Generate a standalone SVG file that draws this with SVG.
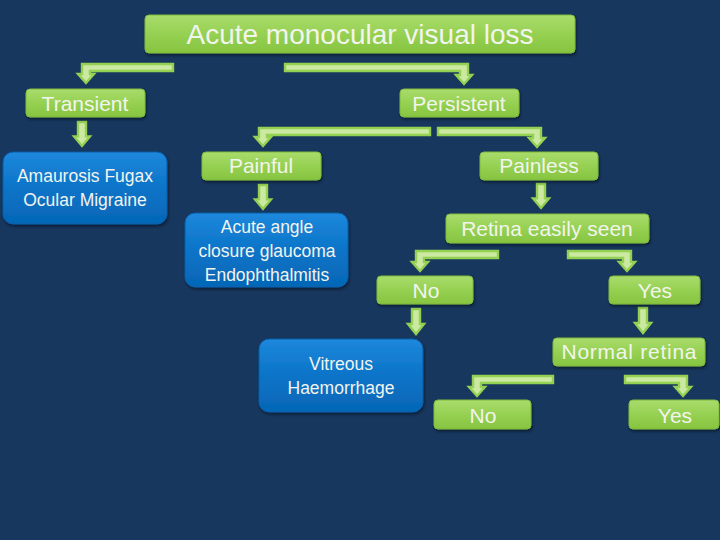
<svg xmlns="http://www.w3.org/2000/svg" width="720" height="540" viewBox="0 0 720 540">
<defs>
<linearGradient id="gg" x1="0" y1="0" x2="0" y2="1">
<stop offset="0" stop-color="#a9dc6c"/>
<stop offset="0.5" stop-color="#96d152"/>
<stop offset="1" stop-color="#86c440"/>
</linearGradient>
<linearGradient id="bg" x1="0" y1="0" x2="0" y2="1">
<stop offset="0" stop-color="#1d88dc"/>
<stop offset="0.5" stop-color="#0b74c8"/>
<stop offset="1" stop-color="#0566b6"/>
</linearGradient>
<filter id="sh" x="-10%" y="-20%" width="120%" height="150%">
<feDropShadow dx="1" dy="2" stdDeviation="1.5" flood-color="#000" flood-opacity="0.45"/>
</filter>
<path id="down" d="M-4,0 H4 V15 H8 L0,25 L-8,15 H-4 Z"/>
</defs>
<style>
.g{fill:url(#gg);stroke:#7fb93c;stroke-width:1;filter:url(#sh)}
.b{fill:url(#bg);stroke:#0a5ea8;stroke-width:1;filter:url(#sh)}
.t{font-family:"Liberation Sans",Arial,sans-serif;fill:#f2f4ee;text-anchor:middle}
.a{fill:#cbe9a0;stroke:#94d052;stroke-width:2.4;stroke-linejoin:miter}
</style>
<rect width="720" height="540" fill="#17375e"/>

<g id="connectors">
<path class="a" d="M173,64 H82 V74 H78 L86,83 L94,74 H90 V71 H173 Z"/>
<path class="a" d="M285,64 H468 V75 H472 L464,84 L456,75 H460 V71 H285 Z"/>
<path class="a" d="M430,128 H259 V137 H255 L263,146 L271,137 H267 V135 H430 Z"/>
<path class="a" d="M438,128 H541 V138 H545 L537,147 L529,138 H533 V135 H438 Z"/>
<path class="a" d="M498,251 H416 V262 H412 L420,271 L428,262 H424 V258 H498 Z"/>
<path class="a" d="M568,251 H631 V262 H635 L627,271 L619,262 H623 V258 H568 Z"/>
<path class="a" d="M553,376 H473 V387 H469 L477,396 L485,387 H481 V383 H553 Z"/>
<path class="a" d="M625,376 H687 V387 H691 L683,396 L675,387 H679 V383 H625 Z"/>
<use href="#down" class="a" transform="translate(82,122) scale(1,0.96)"/>
<use href="#down" class="a" transform="translate(263,185) scale(1,0.96)"/>
<use href="#down" class="a" transform="translate(541,184) scale(1,0.96)"/>
<use href="#down" class="a" transform="translate(416,309)"/>
<use href="#down" class="a" transform="translate(643,308)"/>
</g>

<g id="title">
<rect class="g" x="145" y="15" width="430" height="38" rx="4"/>
<text class="t" x="360" y="44" font-size="28">Acute monocular visual loss</text>
</g>
<g id="transient">
<rect class="g" x="26" y="89" width="119" height="28" rx="4"/>
<text class="t" x="85" y="111" font-size="21">Transient</text>
</g>
<g id="persistent">
<rect class="g" x="400" y="89" width="119" height="28" rx="4"/>
<text class="t" x="459" y="111" font-size="21">Persistent</text>
</g>
<g id="amaurosis">
<rect class="b" x="3" y="152" width="164" height="72" rx="10"/>
<text class="t" x="85" y="182" font-size="17.5">Amaurosis Fugax</text>
<text class="t" x="85" y="206" font-size="17.5">Ocular Migraine</text>
</g>
<g id="painful">
<rect class="g" x="202" y="152" width="119" height="28" rx="4"/>
<text class="t" x="261" y="173" font-size="21">Painful</text>
</g>
<g id="painless">
<rect class="g" x="480" y="152" width="118" height="28" rx="4"/>
<text class="t" x="539" y="173" font-size="21">Painless</text>
</g>
<g id="acute-angle">
<rect class="b" x="185" y="213" width="163" height="74" rx="10"/>
<text class="t" x="267" y="233" font-size="17.5">Acute angle</text>
<text class="t" x="267" y="257" font-size="17.5">closure glaucoma</text>
<text class="t" x="267" y="281" font-size="17.5">Endophthalmitis</text>
</g>
<g id="retina-seen">
<rect class="g" x="446" y="214" width="203" height="29" rx="4"/>
<text class="t" x="547" y="236" font-size="21">Retina easily seen</text>
</g>
<g id="no1">
<rect class="g" x="377" y="276" width="96" height="28" rx="4"/>
<text class="t" x="426" y="298" font-size="21">No</text>
</g>
<g id="yes1">
<rect class="g" x="609" y="276" width="91" height="28" rx="4"/>
<text class="t" x="655" y="298" font-size="21">Yes</text>
</g>
<g id="vitreous">
<rect class="b" x="259" y="339" width="164" height="73" rx="10"/>
<text class="t" x="341" y="370" font-size="17.5">Vitreous</text>
<text class="t" x="341" y="394" font-size="17.5">Haemorrhage</text>
</g>
<g id="normal-retina">
<rect class="g" x="553" y="338" width="152" height="28" rx="4"/>
<text class="t" x="629" y="359" font-size="21" textLength="135" lengthAdjust="spacing">Normal retina</text>
</g>
<g id="no2">
<rect class="g" x="434" y="400" width="97" height="29" rx="4"/>
<text class="t" x="483" y="423" font-size="21">No</text>
</g>
<g id="yes2">
<rect class="g" x="629" y="400" width="90" height="29" rx="4"/>
<text class="t" x="675" y="423" font-size="21">Yes</text>
</g>
</svg>
